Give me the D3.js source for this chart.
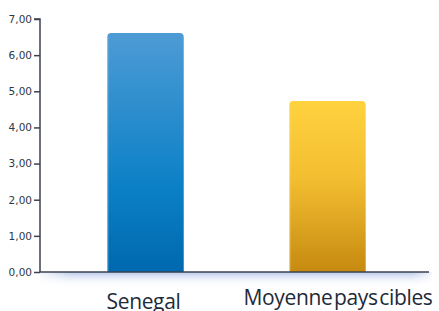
<!DOCTYPE html>
<html><head><meta charset="utf-8">
<script src="https://cdn.jsdelivr.net/npm/d3@7"></script>
<style>body{margin:0;background:#fff}svg{display:block}</style>
</head><body>
<script>
const categories = ["Senegal", "Moyenne pays cibles"];
const values = [6.61, 4.73];
const tickValues = [0,1,2,3,4,5,6,7];
const tickLabels = ["0,00","1,00","2,00","3,00","4,00","5,00","6,00","7,00"];

const W = 439, H = 311;
const svg = d3.select("body").append("svg").attr("width", W).attr("height", H);
const defs = svg.append("defs");

const gB = defs.append("linearGradient").attr("id","gB").attr("x1",0).attr("y1",0).attr("x2",0).attr("y2",1);
gB.append("stop").attr("offset","0%").attr("stop-color","#4d9bd5");
gB.append("stop").attr("offset","65%").attr("stop-color","#0b80c6");
gB.append("stop").attr("offset","100%").attr("stop-color","#0068ae");
const gY = defs.append("linearGradient").attr("id","gY").attr("x1",0).attr("y1",0).attr("x2",0).attr("y2",1);
gY.append("stop").attr("offset","0%").attr("stop-color","#ffd23f");
gY.append("stop").attr("offset","45%").attr("stop-color","#f3be31");
gY.append("stop").attr("offset","100%").attr("stop-color","#c68a10");
const gS = defs.append("linearGradient").attr("id","gS").attr("x1",0).attr("y1",0).attr("x2",0).attr("y2",1);
gS.append("stop").attr("offset","0%").attr("stop-color","#b9c8ea").attr("stop-opacity",1);
gS.append("stop").attr("offset","100%").attr("stop-color","#ffffff").attr("stop-opacity",0);
const gSx = defs.append("linearGradient").attr("id","gSx").attr("x1",0).attr("y1",0).attr("x2",1).attr("y2",0);
gSx.append("stop").attr("offset","0%").attr("stop-color","#fff").attr("stop-opacity",0.8);
gSx.append("stop").attr("offset","8%").attr("stop-color","#fff").attr("stop-opacity",0);
gSx.append("stop").attr("offset","95%").attr("stop-color","#fff").attr("stop-opacity",0);
gSx.append("stop").attr("offset","100%").attr("stop-color","#fff").attr("stop-opacity",0.8);

const x0 = 40, x1 = 429, yTop = 19, yBot = 272;
const y = d3.scaleLinear().domain([0,7]).range([yBot, yTop]);
const x = d3.scaleBand().domain(categories).range([60, 413]).paddingInner(0.58).paddingOuter(0.26);

// shadow below axis
svg.append("rect").attr("x", x0).attr("y", yBot).attr("width", x1 - x0 + 3).attr("height", 15).attr("fill","url(#gS)");
svg.append("rect").attr("x", x0).attr("y", yBot).attr("width", x1 - x0 + 3).attr("height", 15).attr("fill","url(#gSx)");

const fills = ["url(#gB)","url(#gY)"];
const edge = ["#8cc0e8","#ffe490"];
const r = 4;
categories.forEach((c,i)=>{
  const bx = x(c), bw = x.bandwidth(), by = y(values[i]), bb = y(0);
  const p = `M${bx},${bb} L${bx},${by+r} Q${bx},${by} ${bx+r},${by} L${bx+bw-r},${by} Q${bx+bw},${by} ${bx+bw},${by+r} L${bx+bw},${bb} Z`;
  svg.append("path").attr("d", p).attr("fill", fills[i]);
  svg.append("line").attr("x1", bx+0.5).attr("x2", bx+0.5).attr("y1", by+r).attr("y2", bb)
    .attr("stroke", edge[i]).attr("stroke-width",1).attr("opacity",0.8);
});

// y axis
const axis = d3.axisLeft(y).tickValues(tickValues).tickFormat((d,i)=>tickLabels[i]).tickSize(6).tickPadding(2);
const ga = svg.append("g").attr("transform", `translate(${x0},0)`).call(axis);
ga.select(".domain").attr("stroke","#3b4250").attr("stroke-width",1.5).attr("d", `M-6,${yTop}H0V${yBot}`);
ga.selectAll(".tick line").attr("stroke","#3b4250").attr("stroke-width",1.5);
ga.selectAll(".tick text").attr("fill","#2e3846").attr("font-family","'DejaVu Sans', sans-serif").attr("font-size","10.5px");

// x axis line
svg.append("line").attr("x1", x0).attr("x2", x1).attr("y1", yBot).attr("y2", yBot)
  .attr("stroke","#3b4250").attr("stroke-width",1.5);

// category labels
const labelDx = [143.5 - (x(categories[0]) + x.bandwidth()/2), 338 - (x(categories[1]) + x.bandwidth()/2)];
const labelY = [308.5, 305];
svg.selectAll("text.cat").data(categories).enter().append("text").attr("class","cat")
  .attr("x",(d,i)=>x(d)+x.bandwidth()/2 + labelDx[i])
  .attr("y",(d,i)=>labelY[i]).attr("text-anchor","middle")
  .attr("font-family","'Open Sans', sans-serif").attr("font-size","21px")
  .attr("letter-spacing","-0.35").attr("word-spacing","-3.5")
  .attr("fill","#1e2a38").text(d=>d);
</script>
</body></html>
